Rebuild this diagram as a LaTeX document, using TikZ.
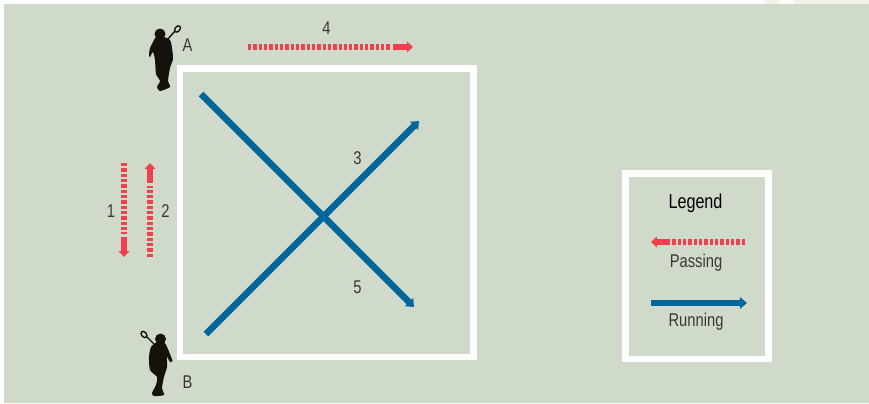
\documentclass[tikz,border=0pt]{standalone}
\usepackage{fontspec}
\setmainfont[FakeStretch=0.8]{Liberation Sans}
\usepackage{xcolor}
\usepackage{tikz}
\usetikzlibrary{arrows.meta}

\definecolor{fieldgreen}{HTML}{CFDACA}
\definecolor{topcream}{HTML}{F3F3EA}
\definecolor{passred}{HTML}{F1404B}
\definecolor{runblue}{HTML}{00669B}
\definecolor{playerblack}{HTML}{15120E}

\tikzset{
  lbl/.style={font=\fontsize{10.5pt}{12pt}\selectfont, text=black!78, inner sep=0pt},
  whitebox/.style={draw=white, line width=3.97pt},
  passdots/.style={draw=passred, line width=2.9pt, dash pattern=on 1.9pt off 1.13pt},
  passhead/.style={draw=passred, line width=3.1pt, -{Triangle[length=3.4pt,width=6pt]}},
  runline/.style={draw=runblue, line width=3.7pt, -{Triangle[length=4pt,width=6.4pt]}},
  player/.style={fill=playerblack, draw=none},
  stick/.style={draw=playerblack, line width=0.8pt}
}

\begin{document}
\begin{tikzpicture}[x=0.02cm, y=-0.02cm]
    \useasboundingbox (0,0) rectangle (869,403);

    % Background
    \fill[white] (0,0) rectangle (869,403);
    \fill[topcream] (764,0) rectangle (780,4);
    \fill[topcream] (793,0) rectangle (869,4);
    \fill[fieldgreen] (4,4) rectangle (869,403);

    % Field and legend frame
    \draw[whitebox] (180,68.5) rectangle (473.5,357);
    \draw[whitebox] (625.5,173.5) rectangle (768.5,359);

    % Player A
    \begin{scope}[shift={(130,15)}]
        \fill[player] (30,19) circle (5.5);
        \fill[player] plot[smooth cycle, tension=0.4] coordinates {
            (26,22) (34,22) (40,25) (42,33) (43,44) (40,53) (38,66) (40,72)
            (30,76) (27,72) (30,66) (26,59) (25,45) (23,37) (20,42) (19,40)
            (20,33) (23,27)};
        \draw[stick] (37,25) -- (45,16);
        \draw[stick] (47.5,14) ellipse [x radius=2.4, y radius=3.6, rotate=-40];
    \end{scope}

    % Player B
    \begin{scope}[shift={(125,320)}]
        \fill[player] (35.5,19) circle (5.5);
        \fill[player] plot[smooth cycle, tension=0.4] coordinates {
            (32,22) (39,22) (42,27) (45,34) (47.5,41) (45,42) (42,37) (42,47)
            (39,57) (37,68) (39,75) (29,76) (27,73) (31,65) (32,57) (25,50)
            (24,37) (26,27)};
        \draw[stick] (30,25) -- (21,16);
        \draw[stick] (19,14.5) ellipse [x radius=2.4, y radius=3.6, rotate=40];
    \end{scope}

    % Passing arrows
    \coordinate (passOneStart) at (124,163);
    \coordinate (passOneMid) at (124,234);
    \coordinate (passOneBar) at (124,237);
    \coordinate (passOneEnd) at (124,257);
    \draw[passdots] (passOneStart) -- (passOneMid);
    \draw[passhead] (passOneBar) -- (passOneEnd);

    \coordinate (passTwoStart) at (150,257);
    \coordinate (passTwoMid) at (150,186);
    \coordinate (passTwoBar) at (150,183);
    \coordinate (passTwoEnd) at (150,163);
    \draw[passdots] (passTwoStart) -- (passTwoMid);
    \draw[passhead] (passTwoBar) -- (passTwoEnd);

    \coordinate (passFourStart) at (248,47);
    \coordinate (passFourMid) at (390,47);
    \coordinate (passFourBar) at (393,47);
    \coordinate (passFourEnd) at (413,47);
    \draw[passdots] (passFourStart) -- (passFourMid);
    \draw[passhead] (passFourBar) -- (passFourEnd);

    % Running arrows
    \coordinate (runThreeStart) at (206,334);
    \coordinate (runThreeEnd) at (419,121);
    \coordinate (runFiveStart) at (201,94);
    \coordinate (runFiveEnd) at (414,307);
    \draw[runline] (runThreeStart) -- (runThreeEnd);
    \draw[runline] (runFiveStart) -- (runFiveEnd);

    % Legend
    \coordinate (legendPassStart) at (745,242);
    \coordinate (legendPassMid) at (672,242);
    \coordinate (legendPassBar) at (670,242);
    \coordinate (legendPassEnd) at (651,242);
    \draw[passdots] (legendPassStart) -- (legendPassMid);
    \draw[passhead] (legendPassBar) -- (legendPassEnd);

    \coordinate (legendRunStart) at (651,303);
    \coordinate (legendRunEnd) at (747,303);
    \draw[runline] (legendRunStart) -- (legendRunEnd);

    % Labels
    \node[lbl] (labelA) at (187.5,45) {A};
    \node[lbl] (labelB) at (187.5,382) {B};
    \node[lbl] (labelOne) at (111,211) {1};
    \node[lbl] (labelTwo) at (165.5,211) {2};
    \node[lbl] (labelThree) at (357.5,158) {3};
    \node[lbl] (labelFour) at (326.5,28) {4};
    \node[lbl] (labelFive) at (357.5,287) {5};
    \node[lbl, font=\fontsize{11.5pt}{13pt}\selectfont, text=black] (legendTitle) at (695.5,203) {Legend};
    \node[lbl] (legendPass) at (696,263) {Passing};
    \node[lbl] (legendRun) at (696,322) {Running};
\end{tikzpicture}
\end{document}
